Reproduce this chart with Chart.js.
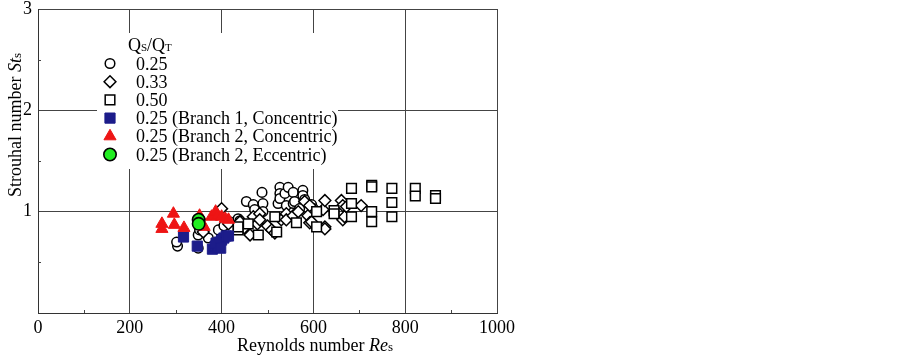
<!DOCTYPE html>
<html lang="en">
<head>
<meta charset="UTF-8" />
<title>Strouhal number vs Reynolds number</title>
<script src="https://cdn.jsdelivr.net/npm/chart.js"></script>
<style>
  body { margin: 0; background: #fff; }
  #wrap { width: 903px; height: 358px; }
</style>
</head>
<body>
<div id="wrap"><canvas id="chartCanvas" width="903" height="358"></canvas></div>
<script>
// axis ticks
const xTicks = [0, 200, 400, 600, 800, 1000];
const yTicks = [1, 2, 3];

// legend entries (same order as the series below)
const legendLabels = [
  "0.25",
  "0.33",
  "0.50",
  "0.25 (Branch 1, Concentric)",
  "0.25 (Branch 2, Concentric)",
  "0.25 (Branch 2, Eccentric)"
];

// [Re_s, St_s]
const q025 = [
  [304,0.66],[302,0.70],[349,0.64],[349,0.77],[352,0.82],[371,0.74],[393,0.82],[405,0.86],
  [418,0.90],[436,0.93],[440,0.91],[454,1.10],[469,1.07],[472,1.02],[488,1.19],[490,1.08],
  [490,1.00],[523,1.08],[527,1.24],[527,1.18],[527,1.13],[538,1.18],[541,1.06],[545,1.24],
  [556,1.19],[556,1.08],[559,1.10],[570,1.03],[577,1.21],[577,1.16],[581,1.12],[596,1.07],[600,1.03]
];
const q033 = [
  [360,0.80],[400,1.03],[415,0.88],[440,0.90],[449,0.84],[462,0.77],[469,0.95],[478,0.88],
  [483,0.98],[483,0.92],[500,0.86],[509,0.82],[516,0.79],[530,0.92],[541,0.98],[541,0.92],
  [556,0.96],[567,1.00],[581,1.10],[588,0.96],[592,1.06],[592,0.89],[596,0.90],[621,1.02],
  [625,1.11],[625,0.85],[625,0.83],[661,1.11],[664,1.06],[664,0.92],[668,0.95],[672,1.05],[704,1.06]
];
const q050 = [
  [436,0.82],[436,0.85],[458,0.88],[480,0.77],[516,0.95],[520,0.80],[563,0.89],[607,1.00],
  [607,0.85],[645,1.01],[645,0.98],[683,1.23],[683,1.08],[683,0.95],[727,1.26],[727,1.245],
  [727,1.00],[727,0.90],[771,1.23],[771,1.09],[771,0.95],[822,1.23],[822,1.155],[866,1.16],[866,1.13]
];
const branch1Conc = [
  [317,0.75],[347,0.66],[380,0.63],[386,0.66],[392,0.65],[395,0.70],[400,0.72],[405,0.74],
  [410,0.76],[415,0.76],[388,0.69],[398,0.64]
];
const branch2Conc = [
  [270,0.88],[270,0.83],[295,0.98],[297,0.87],[318,0.84],[352,0.96],[362,0.85],[378,0.95],
  [387,1.00],[392,0.96],[400,0.95],[408,0.93],[415,0.92]
];
const branch2Ecc = [
  [350,0.92],[350,0.88]
];

const SERIF = "'Liberation Serif', 'Times New Roman', serif";

const styles = [
  { pointStyle: "circle",  radius: 4.8, bg: "#fff",    border: "#000",    bw: 1.5, order: 6 },
  { pointStyle: "rectRot", radius: 5.9, bg: "#fff",    border: "#000",    bw: 1.5, order: 5 },
  { pointStyle: "rect",    radius: 6.8, bg: "#fff",    border: "#000",    bw: 1.5, order: 4 },
  { pointStyle: "rect",    radius: 7.2, bg: "#1c1c8a", border: "#1c1c8a", bw: 1,   order: 3 },
  { pointStyle: "triangle",radius: 7.0, bg: "#ee1515", border: "#ee1515", bw: 1,   order: 2 },
  { pointStyle: "circle",  radius: 6.2, bg: "#22ee22", border: "#000",    bw: 1.6, order: 1 }
];
const seriesData = [q025, q033, q050, branch1Conc, branch2Conc, branch2Ecc];

const datasets = seriesData.map((d, i) => ({
  label: legendLabels[i],
  data: d.map(p => ({ x: p[0], y: p[1] })),
  pointStyle: styles[i].pointStyle,
  pointRadius: styles[i].radius,
  pointBackgroundColor: styles[i].bg,
  pointBorderColor: styles[i].border,
  pointBorderWidth: styles[i].bw,
  showLine: false,
  order: styles[i].order
}));

// draw text pieces one after another (for italics and small subscripts)
function drawParts(ctx, parts, x, y) {
  parts.forEach(p => {
    ctx.font = p.font;
    ctx.fillText(p.t, x, y + (p.dy || 0));
    x += ctx.measureText(p.t).width;
  });
}

const extras = {
  id: "extras",
  beforeDatasetsDraw(chart) {
    const ctx = chart.ctx;
    ctx.save();
    ctx.fillStyle = "#fff";
    ctx.fillRect(97, 33, 241, 136);
    ctx.restore();
  },
  afterDraw(chart) {
    const ctx = chart.ctx;
    const xs = chart.scales.x, ys = chart.scales.y;
    ctx.save();

    // minor ticks inside the frame
    ctx.strokeStyle = "#444";
    ctx.lineWidth = 1;
    ctx.beginPath();
    [100, 300, 500, 700, 900].forEach(v => {
      const px = Math.round(xs.getPixelForValue(v)) + 0.5;
      ctx.moveTo(px, ys.bottom);
      ctx.lineTo(px, ys.bottom - 3);
    });
    [0.5, 1.5, 2.5].forEach(v => {
      const py = Math.round(ys.getPixelForValue(v)) + 0.5;
      ctx.moveTo(xs.left, py);
      ctx.lineTo(xs.left + 3, py);
    });
    ctx.stroke();

    ctx.fillStyle = "#000";
    ctx.textBaseline = "alphabetic";
    ctx.textAlign = "left";

    // axis titles
    drawParts(ctx, [
      { t: "Reynolds number ", font: "18px " + SERIF },
      { t: "Re", font: "italic 18px " + SERIF },
      { t: "s", font: "13px " + SERIF }
    ], 237, 351);

    ctx.save();
    ctx.translate(21, 197);
    ctx.rotate(-Math.PI / 2);
    drawParts(ctx, [
      { t: "Strouhal number ", font: "18px " + SERIF },
      { t: "St", font: "italic 18px " + SERIF },
      { t: "s", font: "13px " + SERIF }
    ], 0, 0);
    ctx.restore();

    // legend
    drawParts(ctx, [
      { t: "Q", font: "18px " + SERIF },
      { t: "S", font: "11px " + SERIF },
      { t: "/Q", font: "18px " + SERIF },
      { t: "T", font: "11px " + SERIF }
    ], 128, 51);

    legendLabels.forEach((lab, i) => {
      const by = 69.5 + i * 18.2;
      const s = styles[i];
      ctx.fillStyle = s.bg;
      ctx.strokeStyle = s.border;
      ctx.lineWidth = s.bw;
      Chart.helpers.drawPoint(ctx, {
        pointStyle: s.pointStyle, radius: s.radius, rotation: 0, borderWidth: s.bw
      }, 110, by - 6);
      ctx.fillStyle = "#000";
      ctx.font = "18px " + SERIF;
      ctx.fillText(lab, 136, by);
    });

    ctx.restore();
  }
};

new Chart(document.getElementById("chartCanvas"), {
  type: "scatter",
  data: { datasets },
  plugins: [extras],
  options: {
    responsive: false,
    animation: false,
    layout: { padding: { left: 0, top: 9, right: 406, bottom: 0 } },
    plugins: { legend: { display: false }, tooltip: { enabled: false } },
    scales: {
      x: {
        type: "linear",
        min: xTicks[0],
        max: xTicks[xTicks.length - 1],
        afterBuildTicks: s => { s.ticks = xTicks.map(v => ({ value: v })); },
        afterFit: s => { s.height = 45; },
        ticks: {
          color: "#000", font: { family: SERIF, size: 18 }, padding: 4, maxRotation: 0,
          callback: v => String(v)
        },
        grid: { color: "#444", lineWidth: 1, drawTicks: false },
        border: { color: "#333", width: 1 }
      },
      y: {
        min: 0,
        max: 3,
        afterBuildTicks: s => { s.ticks = [0].concat(yTicks).map(v => ({ value: v })); },
        afterFit: s => { s.width = 38; },
        ticks: {
          color: "#000", font: { family: SERIF, size: 18, lineHeight: 0.25 }, padding: 6,
          callback: v => (v === 0 ? "" : String(v))
        },
        grid: { color: "#444", lineWidth: 1, drawTicks: false },
        border: { color: "#333", width: 1 }
      }
    }
  }
});
</script>
</body>
</html>
